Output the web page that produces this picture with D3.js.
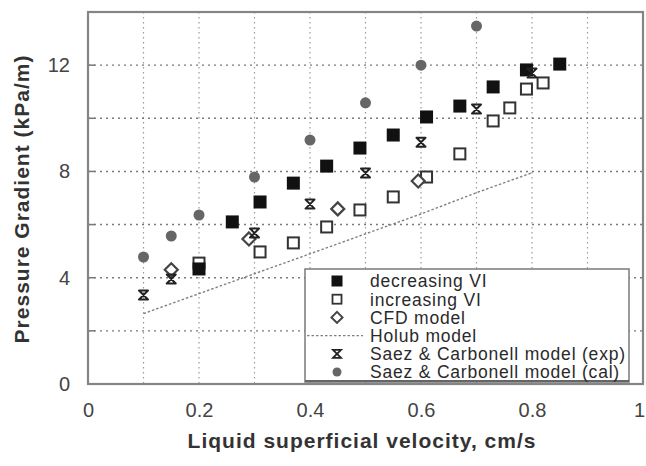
<!DOCTYPE html>
<html>
<head>
<meta charset="utf-8">
<script src="https://cdn.jsdelivr.net/npm/d3@7"></script>
<style>
  html, body { margin: 0; padding: 0; background: #fff; }
  svg { display: block; font-family: "Liberation Sans", Arial, Helvetica, sans-serif; }
</style>
</head>
<body>
<svg id="chart" width="646" height="466"></svg>
<script>
// Pressure gradient versus liquid superficial velocity

const decreasingV = [0.2, 0.26, 0.31, 0.37, 0.43, 0.49, 0.55, 0.61, 0.67, 0.73, 0.79, 0.85];
const decreasingP = [4.33, 6.1, 6.85, 7.56, 8.2, 8.88, 9.37, 10.05, 10.46, 11.18, 11.82, 12.04];

const increasingV = [0.2, 0.31, 0.37, 0.43, 0.49, 0.55, 0.61, 0.67, 0.73, 0.76, 0.79, 0.82];
const increasingP = [4.55, 4.97, 5.31, 5.91, 6.55, 7.04, 7.79, 8.66, 9.9, 10.39, 11.1, 11.33];

const cfdV = [0.15, 0.29, 0.45, 0.595];
const cfdP = [4.3, 5.46, 6.59, 7.64];

const holubV = [0.1, 0.2, 0.3, 0.4, 0.5, 0.6, 0.7, 0.8];
const holubP = [2.65, 3.4, 4.15, 4.9, 5.65, 6.4, 7.2, 7.95];

const saezExpV = [0.1, 0.15, 0.3, 0.4, 0.5, 0.6, 0.7, 0.8];
const saezExpP = [3.35, 3.95, 5.68, 6.77, 7.94, 9.1, 10.35, 11.7];

const saezCalV = [0.1, 0.15, 0.2, 0.3, 0.4, 0.5, 0.6, 0.7];
const saezCalP = [4.78, 5.57, 6.36, 7.79, 9.18, 10.58, 12.0, 13.47];

const xTickValues = [0, 0.2, 0.4, 0.6, 0.8, 1];
const xTickLabels = ["0", "0.2", "0.4", "0.6", "0.8", "1"];
const yTickValues = [0, 4, 8, 12];
const yTickLabels = ["0", "4", "8", "12"];

const legendLabels = [
  "decreasing VI",
  "increasing VI",
  "CFD model",
  "Holub model",
  "Saez & Carbonell model (exp)",
  "Saez & Carbonell model (cal)"
];

const xTitle = "Liquid superficial velocity, cm/s";
const yTitle = "Pressure Gradient (kPa/m)";

const zip = (a, b) => a.map((v, i) => [v, b[i]]);

const svg = d3.select("#chart");
const plotLeft = 88, plotRight = 643, plotTop = 12, plotBottom = 384;

const x = d3.scaleLinear().domain([0, 1]).range([plotLeft, plotRight]);
const y = d3.scaleLinear().domain([0, 14]).range([plotBottom, plotTop]);

// grid
const grid = svg.append("g");
grid.selectAll("line.v")
  .data(d3.range(1, 10).map(i => i / 10))
  .join("line")
  .attr("x1", d => x(d)).attr("x2", d => x(d))
  .attr("y1", y(14)).attr("y2", y(0))
  .attr("stroke", "#9a9a9a").attr("stroke-width", 1.2)
  .attr("stroke-dasharray", "1.5,3.5");
grid.selectAll("line.h")
  .data(d3.range(2, 14, 2))
  .join("line")
  .attr("x1", x(0)).attr("x2", x(1))
  .attr("y1", d => y(d)).attr("y2", d => y(d))
  .attr("stroke", "#7a7a7a").attr("stroke-width", 1.4)
  .attr("stroke-dasharray", "2,4");

// axes
const xAxis = d3.axisBottom(x).tickValues(xTickValues)
  .tickFormat((d, i) => xTickLabels[i]).tickSize(0).tickPadding(19);
const gx = svg.append("g").attr("transform", `translate(0,${plotBottom})`).call(xAxis);
gx.select(".domain").remove();
gx.selectAll("text").attr("font-size", 20).attr("fill", "#444")
  .attr("font-family", "Liberation Sans, Arial, sans-serif");
// keep the last label inside the drawing
gx.selectAll("text").filter(d => d === 1).attr("dx", -4);

const yAxis = d3.axisLeft(y).tickValues(yTickValues)
  .tickFormat((d, i) => yTickLabels[i]).tickSize(0).tickPadding(18);
const gy = svg.append("g").attr("transform", `translate(${plotLeft},0)`).call(yAxis);
gy.select(".domain").remove();
gy.selectAll("text").attr("font-size", 20).attr("fill", "#444")
  .attr("font-family", "Liberation Sans, Arial, sans-serif");

// inward ticks on the left axis
svg.append("g").selectAll("line")
  .data(d3.range(2, 14, 2))
  .join("line")
  .attr("x1", x(0)).attr("x2", x(0) + 7)
  .attr("y1", d => y(d)).attr("y2", d => y(d))
  .attr("stroke", "#777").attr("stroke-width", 1.5);

// frame
svg.append("rect")
  .attr("x", x(0)).attr("y", y(14))
  .attr("width", x(1) - x(0)).attr("height", y(0) - y(14))
  .attr("fill", "none").attr("stroke", "#858585").attr("stroke-width", 2.2);

// Holub model line
const line = d3.line().x(d => x(d[0])).y(d => y(d[1]));
svg.append("path")
  .datum(zip(holubV, holubP))
  .attr("d", line)
  .attr("fill", "none").attr("stroke", "#808080").attr("stroke-width", 1.4)
  .attr("stroke-dasharray", "2.5,2");

// marker shapes
const drawSquareFilled = (g) => g.append("rect")
  .attr("x", -6.5).attr("y", -6.5).attr("width", 13).attr("height", 13)
  .attr("fill", "#111");
const drawSquareOpen = (g) => g.append("rect")
  .attr("x", -5.5).attr("y", -5.5).attr("width", 11).attr("height", 11)
  .attr("fill", "#fff").attr("stroke", "#333").attr("stroke-width", 2);
const drawDiamond = (g) => g.append("path")
  .attr("d", "M0,-6.5L6.5,0L0,6.5L-6.5,0Z")
  .attr("fill", "#fff").attr("stroke", "#444").attr("stroke-width", 2.2);
const drawHourglass = (g) => g.append("path")
  .attr("d", "M-4.5,-4.5H4.5L-4.5,4.5H4.5Z")
  .attr("fill", "none").attr("stroke", "#222").attr("stroke-width", 2)
  .attr("stroke-linejoin", "round");
const drawCircle = (g) => g.append("circle")
  .attr("r", 5.5).attr("fill", "#666");

function plotSeries(vs, ps, draw) {
  const g = svg.append("g");
  g.selectAll("g")
    .data(zip(vs, ps))
    .join("g")
    .attr("transform", d => `translate(${x(d[0])},${y(d[1])})`)
    .each(function () { draw(d3.select(this)); });
}

plotSeries(saezCalV, saezCalP, drawCircle);
plotSeries(increasingV, increasingP, drawSquareOpen);
plotSeries(cfdV, cfdP, drawDiamond);
plotSeries(decreasingV, decreasingP, drawSquareFilled);
plotSeries(saezExpV, saezExpP, drawHourglass);

// legend
const lg = svg.append("g");
lg.append("rect")
  .attr("x", 305).attr("y", 269).attr("width", 324).attr("height", 113)
  .attr("fill", "#fff").attr("stroke", "#7a7a7a").attr("stroke-width", 1.5);
lg.append("line")
  .attr("x1", 305).attr("x2", 629).attr("y1", 381).attr("y2", 381)
  .attr("stroke", "#666").attr("stroke-width", 2);

const legendHasMarker = [true, true, true, false, true, true];
legendLabels.forEach((label, i) => {
  const cy = 281 + i * 18.2;
  if (legendHasMarker[i]) {
    const g = lg.append("g").attr("transform", `translate(337,${cy})`);
    if (i === 0) {
      g.append("rect").attr("x", -5.5).attr("y", -5.5).attr("width", 11).attr("height", 11).attr("fill", "#111");
    } else if (i === 1) {
      g.append("rect").attr("x", -4.5).attr("y", -4.5).attr("width", 9).attr("height", 9)
        .attr("fill", "#fff").attr("stroke", "#333").attr("stroke-width", 1.8);
    } else if (i === 2) {
      g.append("path").attr("d", "M0,-5.5L5.5,0L0,5.5L-5.5,0Z")
        .attr("fill", "#fff").attr("stroke", "#444").attr("stroke-width", 2);
    } else if (i === 4) {
      g.append("path").attr("d", "M-4,-4H4L-4,4H4Z")
        .attr("fill", "none").attr("stroke", "#222").attr("stroke-width", 1.8);
    } else {
      g.append("circle").attr("r", 4.5).attr("fill", "#666");
    }
  } else {
    lg.append("line")
      .attr("x1", 307).attr("x2", 363).attr("y1", cy).attr("y2", cy)
      .attr("stroke", "#808080").attr("stroke-width", 1.4).attr("stroke-dasharray", "2.5,2");
  }
  lg.append("text")
    .attr("x", 370).attr("y", cy).attr("dy", "0.36em")
    .attr("font-size", 17.5).attr("letter-spacing", "0.8px")
    .attr("fill", "#2a2a2a")
    .text(label);
});

// axis titles
svg.append("text")
  .attr("x", 362).attr("y", 448)
  .attr("text-anchor", "middle")
  .attr("font-size", 21).attr("font-weight", "bold").attr("letter-spacing", "1px")
  .attr("fill", "#333")
  .text(xTitle);

svg.append("text")
  .attr("transform", "translate(29,199) rotate(-90)")
  .attr("text-anchor", "middle")
  .attr("font-size", 21).attr("font-weight", "bold").attr("letter-spacing", "1px")
  .attr("fill", "#333")
  .text(yTitle);
</script>
</body>
</html>
